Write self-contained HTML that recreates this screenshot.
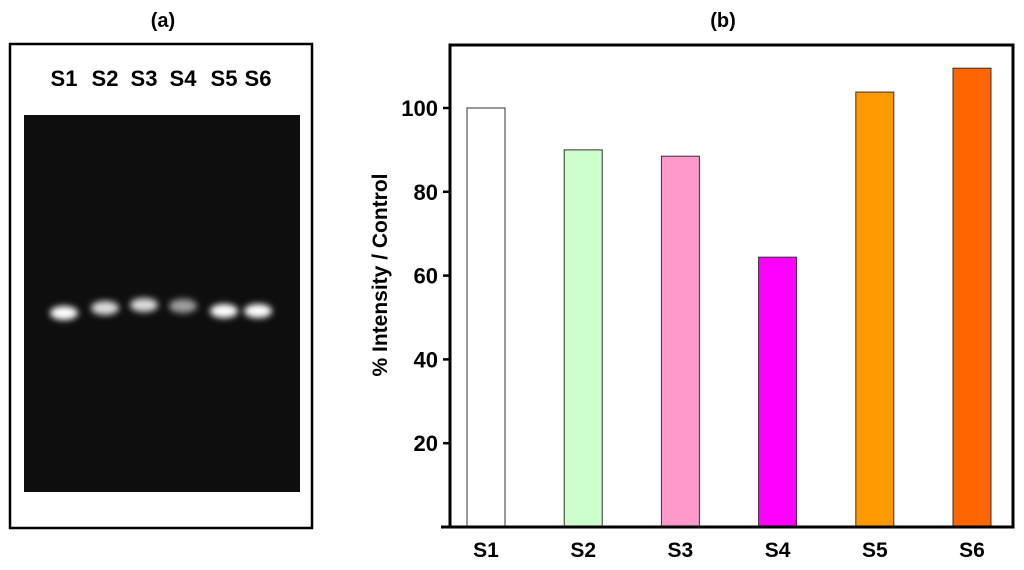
<!DOCTYPE html>
<html><head><meta charset="utf-8"><style>
html,body{margin:0;padding:0;background:#fff;width:1024px;height:570px;overflow:hidden;font-family:"Liberation Sans",Arial,sans-serif}
</style></head><body>
<svg width="1024" height="570" xmlns="http://www.w3.org/2000/svg">
<defs>
<filter id="blur" x="-50%" y="-100%" width="200%" height="300%"><feGaussianBlur stdDeviation="3.2"/></filter>
</defs>
<text x="163" y="27" font-size="20" font-weight="bold" text-anchor="middle">(a)</text>
<text x="723" y="27" font-size="20" font-weight="bold" text-anchor="middle">(b)</text>
<rect x="10" y="44" width="302" height="484" fill="#fff" stroke="#000" stroke-width="2.5"/>
<g id="lanelabels" font-size="22" font-weight="bold" text-anchor="middle"></g>
<rect x="24" y="115" width="276" height="377" fill="#0e0e0e"/>
<g id="bands"></g>
<g id="chart"></g>
</svg>
<script>
const categories=["S1","S2","S3","S4","S5","S6"];
const values=[100,90,88.5,64.4,103.8,109.5];
const colors=["#ffffff","#ccffcc","#ff99cc","#ff00ff","#ff9900","#ff6600"];
const yTicks=[20,40,60,80,100];
const laneX=[64,105,144,183,224,258];
const bandY=[313,308,305,306,311,311];
const bandBright=[1,0.85,0.85,0.6,1,1];
const NS="http://www.w3.org/2000/svg";
function mk(t,a,p){const e=document.createElementNS(NS,t);for(const k in a)e.setAttribute(k,a[k]);p.appendChild(e);return e;}
const ll=document.getElementById('lanelabels'),bands=document.getElementById('bands');
categories.forEach((c,i)=>{
 const t=mk('text',{x:laneX[i],y:86},ll);t.textContent=c;
 
 
 const b=mk('ellipse',{cx:laneX[i],cy:bandY[i],rx:14,ry:7,fill:'#fff','fill-opacity':bandBright[i],filter:'url(#blur)'},bands);
 
 
});
const g=document.getElementById('chart');
const X0=450,X1=1013,YT=45,YB=527;
const y=v=>YB-v*4.19;
const xc=i=>486+i*97.2;
mk('rect',{x:X0,y:YT,width:X1-X0,height:YB-YT,fill:'none',stroke:'#000','stroke-width':3},g);
categories.forEach((c,i)=>{
 const r=mk('rect',{x:xc(i)-19,y:y(values[i]),width:38,height:YB-y(values[i]),fill:colors[i],stroke:'#333','stroke-width':1},g);
 
 
 const t=mk('text',{x:xc(i),y:557,'font-size':21,'font-weight':'bold','text-anchor':'middle'},g);t.textContent=c;
 
 
});
mk('line',{x1:441,y1:YB,x2:X1,y2:YB,stroke:'#000','stroke-width':3},g);
mk('line',{x1:X0,y1:YT,x2:X0,y2:YB,stroke:'#000','stroke-width':3},g);
yTicks.forEach(v=>{
 const l=mk('line',{x1:443,y1:y(v),x2:X0,y2:y(v),stroke:'#000','stroke-width':2.5},g);
 
 
 const t=mk('text',{x:438,y:y(v)+8,'font-size':22,'font-weight':'bold','text-anchor':'end'},g);t.textContent=v;
 
 
});
const yt=mk('text',{x:0,y:0,'font-size':21,'font-weight':'bold','text-anchor':'middle',transform:'translate(387,275) rotate(-90)'},g);
yt.textContent='% Intensity / Control';


</script>
</body></html>
